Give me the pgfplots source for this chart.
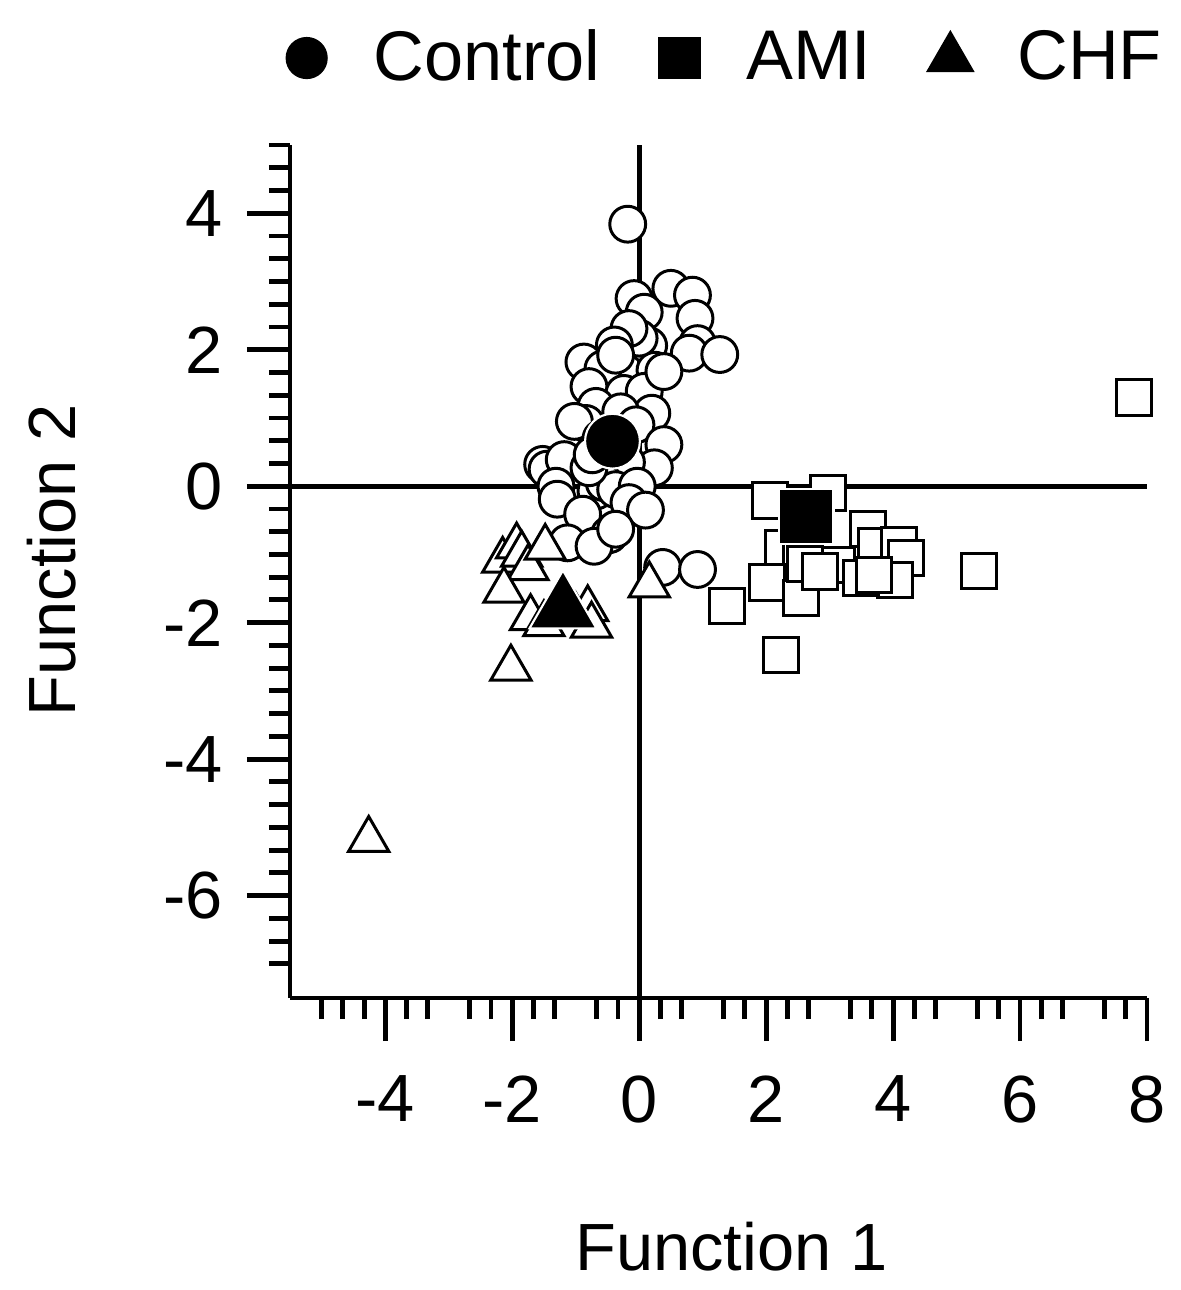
\documentclass[border=0pt]{standalone}
\usepackage{fontspec}
\setmainfont{Liberation Sans}
\usepackage{pgfplots}
\pgfplotsset{compat=1.18}

\pgfplotstableread{
x y
-0.18 3.84
-0.08 2.75
0.50 2.90
0.84 2.80
0.08 2.55
0.88 2.46
0.92 2.09
0.79 1.95
1.27 1.93
0.15 2.06
0.25 1.70
0.00 2.17
-0.16 2.31
-0.39 2.07
-0.87 1.82
-0.57 1.72
-0.37 1.92
-0.79 1.46
-0.24 1.36
0.08 1.39
0.39 1.68
-0.68 1.17
0.20 1.07
-0.84 0.92
-1.02 0.95
-0.29 1.09
-0.05 0.90
-0.60 0.70
0.39 0.61
0.24 0.27
-0.20 0.35
-1.52 0.32
-1.45 0.25
-1.18 0.39
-1.31 0.00
-1.29 -0.19
-0.68 -0.07
-0.55 0.05
-0.37 -0.05
-0.03 0.00
-0.16 -0.24
0.10 -0.35
-0.79 0.27
-0.74 0.46
-0.89 -0.41
-0.47 -0.71
-1.13 -0.83
-0.71 -0.88
-0.37 -0.63
0.37 -1.19
0.92 -1.22
}\control

\pgfplotstableread{
x y
2.06 -0.21
2.97 -0.10
3.60 -0.63
2.26 -0.91
2.55 -0.95
3.12 -1.15
2.02 -1.41
2.55 -1.64
3.73 -0.88
4.09 -0.86
4.20 -1.05
4.03 -1.37
3.49 -1.34
3.70 -1.30
2.61 -1.14
2.85 -1.25
5.35 -1.24
2.23 -2.47
1.39 -1.76
7.80 1.30
}\ami

\pgfplotstableread{
x y
-2.15 -1.09
-1.93 -0.88
-1.85 -1.00
-1.75 -1.20
-1.48 -0.90
-2.13 -1.53
-1.71 -1.93
-1.50 -2.02
-1.00 -1.90
-0.81 -1.80
-0.75 -2.04
-2.02 -2.67
0.16 -1.45
-4.26 -5.18
}\chf

\begin{document}
\begin{tikzpicture}
\begin{axis}[
  scale only axis, width=8.57cm, height=8.53cm,
  xmin=-5.5, xmax=8, ymin=-7.5, ymax=5,
  clip=false,
  axis lines*=left,
  axis line style={line width=1.4pt},
  tick align=outside,
  every tick/.style={black, line width=1.4pt},
  major tick length=0.43cm, minor tick length=0.21cm,
  xtick={-4,-2,0,2,4,6,8}, xticklabels={-4,-2,0,2,4,6,8},
  ytick={-6,-4,-2,0,2,4}, yticklabels={-6,-4,-2,0,2,4},
  minor xtick={-5,-4.6667,-4.3333,-3.6667,-3.3333,-2.6667,-2.3333,-1.6667,-1.3333,-0.6667,-0.3333,0.3333,0.6667,1.3333,1.6667,2.3333,2.6667,3.3333,3.6667,4.3333,4.6667,5.3333,5.6667,6.3333,6.6667,7.3333,7.6667},
  minor ytick={-7,-6.6667,-6.3333,-5.6667,-5.3333,-5,-4.6667,-4.3333,-3.6667,-3.3333,-3,-2.6667,-2.3333,-1.6667,-1.3333,-1,-0.6667,-0.3333,0.3333,0.6667,1,1.3333,1.6667,2.3333,2.6667,3,3.3333,3.6667,4.3333,4.6667,5},
  tick label style={font=\fontsize{19}{23}\selectfont},
  xticklabel style={yshift=-0.22cm},
  yticklabel style={xshift=-0.12cm},
  label style={font=\fontsize{19}{23}\selectfont},
  xlabel={Function 1}, ylabel={Function 2},
  xlabel style={anchor=base, at={(axis description cs:0.515,-0.319)}},
  ylabel style={anchor=base, at={(axis description cs:-0.25,0.513)}},
  legend columns=3,
  legend style={draw=none, fill=none, font=\fontsize{20}{24}\selectfont,
    at={(axis description cs:0.505,1.102)}, anchor=center,
    /tikz/every even column/.append style={column sep=0.42cm}},
  legend image code/.code={\path[draw=none, fill=none] (-0.3cm,0cm) rectangle (0.6cm,0cm);
    \draw[#1] plot coordinates {(0cm,0cm)};},
]
\draw[line width=1.4pt] (axis cs:0,-7.5) -- (axis cs:0,5);
\draw[line width=1.4pt] (axis cs:-5.5,0) -- (axis cs:8,0);

\addlegendimage{only marks, mark=*, mark size=5.8pt, black}
\addlegendentry{Control}
\addlegendimage{only marks, mark=square*, mark size=5.9pt, black}
\addlegendentry{AMI}
\addlegendimage{only marks, mark=triangle*, mark size=7.6pt, black}
\addlegendentry{CHF}

\addplot[only marks, mark=*, mark size=5.1pt, black,
  mark options={fill=white, line width=0.85pt}, forget plot] table {\control};
\addplot[only marks, mark=square*, mark size=5pt, black,
  mark options={fill=white, line width=0.85pt}, forget plot] table {\ami};
\addplot[only marks, mark=triangle*, mark size=6.6pt, black,
  mark options={fill=white, line width=0.85pt}, forget plot] table {\chf};

\addplot[only marks, mark=*, mark size=7.8pt, black,
  mark options={fill=black, draw=white, line width=0.6pt}, forget plot]
  coordinates {(-0.42,0.66)};
\addplot[only marks, mark=square*, mark size=7.8pt, black,
  mark options={fill=black, draw=white, line width=0.6pt}, forget plot]
  coordinates {(2.63,-0.44)};
\addplot[only marks, mark=triangle*, mark size=11pt, black,
  mark options={fill=black, draw=white, line width=0.6pt}, forget plot]
  coordinates {(-1.20,-1.80)};
\end{axis}
\pgfresetboundingbox
\path[use as bounding box] (-2.9cm,-2.92cm) rectangle (8.9cm,9.98cm);
\end{tikzpicture}
\end{document}
